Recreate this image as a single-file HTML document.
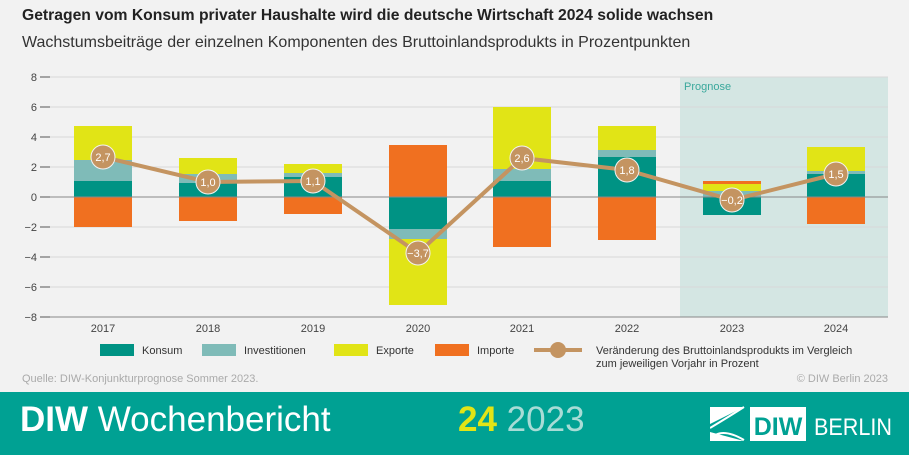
<!DOCTYPE html><html><head><meta charset="utf-8"><style>
body{margin:0;width:909px;height:455px;background:#f2f2f2;font-family:"Liberation Sans",sans-serif;overflow:hidden;position:relative}
.t{position:absolute;left:22px;top:7px;font-size:15.7px;font-weight:bold;color:#222;white-space:nowrap}
.s{position:absolute;left:22px;top:34px;font-size:16px;color:#333}
.f{position:absolute;left:0;top:392px;width:909px;height:63px;background:#00a193;color:#fff}
</style></head><body>
<div class="t">Getragen vom Konsum privater Haushalte wird die deutsche Wirtschaft 2024 solide wachsen</div>
<div class="s">Wachstumsbeiträge der einzelnen Komponenten des Bruttoinlandsprodukts in Prozentpunkten</div>
<svg width="909" height="392" style="position:absolute;left:0;top:0" font-family="Liberation Sans,sans-serif">
<rect x="680" y="77" width="208" height="240" fill="#d4e6e3"/>
<text x="684" y="90" font-size="11" fill="#3aa89c">Prognose</text>
<g stroke="#d8d8d8" stroke-width="1">
<line x1="50" x2="888" y1="77" y2="77"/><line x1="50" x2="888" y1="107" y2="107"/><line x1="50" x2="888" y1="137" y2="137"/><line x1="50" x2="888" y1="167" y2="167"/><line x1="50" x2="888" y1="227" y2="227"/><line x1="50" x2="888" y1="257" y2="257"/><line x1="50" x2="888" y1="287" y2="287"/></g>
<g stroke="#555" stroke-width="1"><line x1="40" x2="50" y1="77" y2="77"/><line x1="40" x2="50" y1="107" y2="107"/><line x1="40" x2="50" y1="137" y2="137"/><line x1="40" x2="50" y1="167" y2="167"/><line x1="40" x2="50" y1="197" y2="197"/><line x1="40" x2="50" y1="227" y2="227"/><line x1="40" x2="50" y1="257" y2="257"/><line x1="40" x2="50" y1="287" y2="287"/><line x1="40" x2="50" y1="317" y2="317"/></g>
<g font-size="11" fill="#444" text-anchor="end"><text x="37" y="81">8</text><text x="37" y="111">6</text><text x="37" y="141">4</text><text x="37" y="171">2</text><text x="37" y="201">0</text><text x="37" y="231">−2</text><text x="37" y="261">−4</text><text x="37" y="291">−6</text><text x="37" y="321">−8</text></g>
<g>
<rect x="74" y="181" width="58" height="16" fill="#009384"/><rect x="74" y="160" width="58" height="21" fill="#7fbbb8"/><rect x="74" y="126" width="58" height="34" fill="#e1e416"/><rect x="74" y="197" width="58" height="30" fill="#f07020"/>
<rect x="179" y="183" width="58" height="14" fill="#009384"/><rect x="179" y="174" width="58" height="9" fill="#7fbbb8"/><rect x="179" y="158" width="58" height="16" fill="#e1e416"/><rect x="179" y="197" width="58" height="24" fill="#f07020"/>
<rect x="284" y="177" width="58" height="20" fill="#009384"/><rect x="284" y="173" width="58" height="4" fill="#7fbbb8"/><rect x="284" y="164" width="58" height="9" fill="#e1e416"/><rect x="284" y="197" width="58" height="17" fill="#f07020"/>
<rect x="389" y="145" width="58" height="52" fill="#f07020"/><rect x="389" y="197" width="58" height="32" fill="#009384"/><rect x="389" y="229" width="58" height="10" fill="#7fbbb8"/><rect x="389" y="239" width="58" height="66" fill="#e1e416"/>
<rect x="493" y="181" width="58" height="16" fill="#009384"/><rect x="493" y="169" width="58" height="12" fill="#7fbbb8"/><rect x="493" y="107" width="58" height="62" fill="#e1e416"/><rect x="493" y="197" width="58" height="50" fill="#f07020"/>
<rect x="598" y="157" width="58" height="40" fill="#009384"/><rect x="598" y="150" width="58" height="7" fill="#7fbbb8"/><rect x="598" y="126" width="58" height="24" fill="#e1e416"/><rect x="598" y="197" width="58" height="43" fill="#f07020"/>
<rect x="703" y="191" width="58" height="6" fill="#7fbbb8"/><rect x="703" y="184" width="58" height="7" fill="#e1e416"/><rect x="703" y="181" width="58" height="3" fill="#f07020"/><rect x="703" y="197" width="58" height="18" fill="#009384"/>
<rect x="807" y="174" width="58" height="23" fill="#009384"/><rect x="807" y="171" width="58" height="3" fill="#7fbbb8"/><rect x="807" y="147" width="58" height="24" fill="#e1e416"/><rect x="807" y="197" width="58" height="27" fill="#f07020"/>
</g>
<line x1="50" x2="888" y1="197" y2="197" stroke="#888"/>
<line x1="50" x2="888" y1="317" y2="317" stroke="#888"/>
<polyline points="103,157 208,182 313,181 418,253 522,158 627,170 732,200 836,174" fill="none" stroke="#c49461" stroke-width="4"/>
<g fill="#c49461" stroke="#f2f2f2" stroke-width="1"><circle cx="103" cy="157" r="12"/><circle cx="208" cy="182" r="12"/><circle cx="313" cy="181" r="12"/><circle cx="418" cy="253" r="12"/><circle cx="522" cy="158" r="12"/><circle cx="627" cy="170" r="12"/><circle cx="732" cy="200" r="12"/><circle cx="836" cy="174" r="12"/></g>
<g font-size="11" fill="#fff" text-anchor="middle"><text x="103" y="161">2,7</text><text x="208" y="186">1,0</text><text x="313" y="185">1,1</text><text x="418" y="257">−3,7</text><text x="522" y="162">2,6</text><text x="627" y="174">1,8</text><text x="732" y="204">−0,2</text><text x="836" y="178">1,5</text></g>
<g font-size="11" fill="#444" text-anchor="middle"><text x="103" y="332">2017</text><text x="208" y="332">2018</text><text x="313" y="332">2019</text><text x="418" y="332">2020</text><text x="522" y="332">2021</text><text x="627" y="332">2022</text><text x="732" y="332">2023</text><text x="836" y="332">2024</text></g>
<g font-size="11" fill="#333">
<rect x="100" y="344" width="34" height="12" fill="#009384"/><text x="142" y="354">Konsum</text>
<rect x="202" y="344" width="34" height="12" fill="#7fbbb8"/><text x="244" y="354">Investitionen</text>
<rect x="334" y="344" width="34" height="12" fill="#e1e416"/><text x="376" y="354">Exporte</text>
<rect x="435" y="344" width="34" height="12" fill="#f07020"/><text x="477" y="354">Importe</text>
<line x1="534" x2="582" y1="350" y2="350" stroke="#c49461" stroke-width="4"/><circle cx="558" cy="350" r="8" fill="#c49461"/>
<text x="596" y="354">Veränderung des Bruttoinlandsprodukts im Vergleich</text><text x="596" y="367">zum jeweiligen Vorjahr in Prozent</text>
</g>
<text x="22" y="382" font-size="11" fill="#aaa">Quelle: DIW-Konjunkturprognose Sommer 2023.</text>
<text x="888" y="382" font-size="11" fill="#aaa" text-anchor="end">© DIW Berlin 2023</text>
</svg>
<div class="f">
<div style="position:absolute;left:20px;top:8px;font-size:35px;white-space:nowrap"><b>DIW</b> Wochenbericht</div>
<div style="position:absolute;left:458px;top:8px;font-size:35px;white-space:nowrap"><b style="color:#e1e416">24</b> <span style="color:#a8dcd6">2023</span></div>
<svg style="position:absolute;left:710px;top:14px" width="190" height="36">
<polygon points="0,1 34,1 0,18" fill="#fff"/><path d="M0,22 Q20,10 34,1 M0,34 Q10,20 34,34" stroke="#fff" stroke-width="2" fill="none"/>
<polygon points="0,26 0,35 34,35" fill="#fff"/>
<rect x="40" y="1" width="56" height="34" fill="#fff"/>
<text x="68" y="29" font-size="25" font-weight="bold" fill="#00a193" text-anchor="middle" font-family="Liberation Sans,sans-serif">DIW</text>
<text x="104" y="29" font-size="24" fill="#fff" textLength="78" lengthAdjust="spacingAndGlyphs" font-family="Liberation Sans,sans-serif">BERLIN</text>
</svg>
</div>
</body></html>
